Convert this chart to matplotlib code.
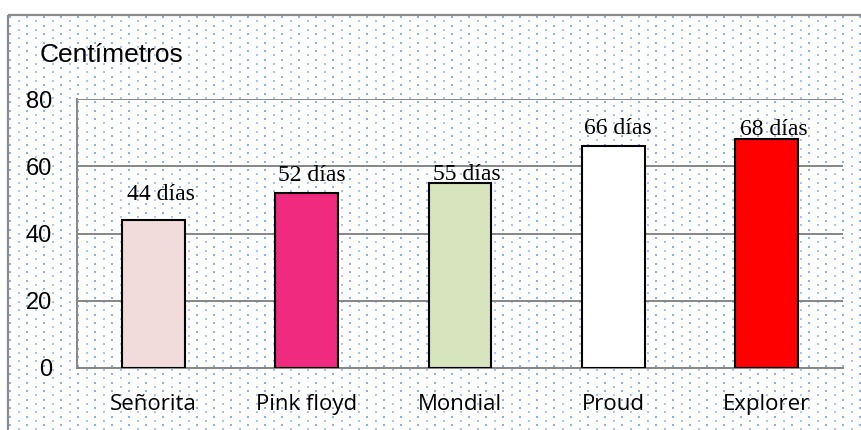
import numpy as np
import matplotlib.pyplot as plt
from matplotlib.patches import Rectangle

variedades = ["Señorita", "Pink floyd", "Mondial", "Proud", "Explorer"]
altura_cm = [44, 52, 55, 66, 68]
dias = [44, 52, 55, 66, 68]
colores = ["#f2dcdb", "#ef2a7f", "#d7e4bd", "#ffffff", "#ff0000"]
yticks = [0, 20, 40, 60, 80]
# desplazamiento de cada etiqueta (px) respecto al borde superior de la barra
desp_etiquetas = [(7, 20), (5, 12), (7, 3), (4.5, 12), (7, 4)]

W, H = 861, 430
fig = plt.figure(figsize=(W / 100, H / 100), dpi=100)

# fondo punteado dentro del marco
bg = fig.add_axes([0, 0, 1, 1], zorder=0)
bg.set_xlim(0, W)
bg.set_ylim(H, 0)
bg.axis("off")
x0, y0 = 8, 15
step = 8.5
cols = np.arange(x0 + 2, W + step, step)
for i, cx in enumerate(cols):
    off = 2 if i % 2 == 0 else 6
    ys = np.arange(y0 + off, H + step, step)
    c = "#8ab2e6" if i % 2 == 0 else "#aac6ef"
    bg.scatter(np.full_like(ys, cx), ys, s=2.6, marker="s", color=c, lw=0)
bg.add_patch(Rectangle((x0, y0), W, H, fill=False, ec="#8a8a8a", lw=1.6))

ax = fig.add_axes([77 / W, 1 - 368 / H, (843 - 77) / W, (368 - 99) / H], zorder=1)
ax.patch.set_alpha(0)
x = np.arange(len(variedades))
ax.bar(x, altura_cm, width=0.41, color=colores, edgecolor="black", linewidth=1.5, zorder=3)
for xi, v, d, (dx, dy) in zip(x, altura_cm, dias, desp_etiquetas):
    ax.annotate(f"{d} días", (xi, v), xytext=(dx * 0.72, dy * 0.72), textcoords="offset points",
                ha="center", va="baseline", fontsize=17, family="Liberation Serif", zorder=4)

ax.set_xlim(-0.5, len(variedades) - 0.5)
ax.set_ylim(0, 80)
ax.set_yticks(yticks)
ax.yaxis.grid(True, color="#868686", lw=1.4, zorder=1)
ax.set_axisbelow(True)
ax.set_xticks(x)
ax.set_xticklabels(variedades, family="Open Sans", fontsize=16)
for lbl in ax.get_yticklabels():
    lbl.set_family("Liberation Sans")
    lbl.set_fontsize(17)
ax.tick_params(axis="both", length=0)
ax.tick_params(axis="x", pad=19)
ax.tick_params(axis="y", pad=18)
for s in ["top", "right"]:
    ax.spines[s].set_visible(False)
ax.spines["left"].set_color("#868686")
ax.spines["bottom"].set_color("#868686")
ax.spines["left"].set_linewidth(1.4)
ax.spines["bottom"].set_linewidth(1.4)

fig.text(40 / W, 1 - 62 / H, "Centímetros", family="Liberation Sans", fontsize=19,
         va="baseline", ha="left")

fig.savefig("out.png", dpi=100)
